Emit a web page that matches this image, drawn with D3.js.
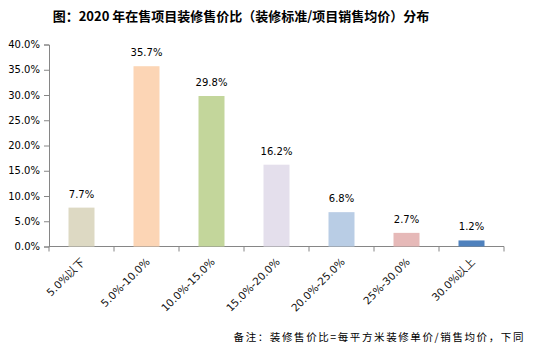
<!DOCTYPE html>
<html><head><meta charset="utf-8">
<script src="https://cdn.jsdelivr.net/npm/d3@7/dist/d3.min.js"></script>
<style>body{margin:0;background:#fff}svg{display:block}</style>
</head><body>
<script>
const categories = ["5.0%以下","5.0%-10.0%","10.0%-15.0%","15.0%-20.0%","20.0%-25.0%","25%-30.0%","30.0%以上"];
const values = [7.7, 35.7, 29.8, 16.2, 6.8, 2.7, 1.2];
const colors = ["#ddd9c3","#fcd5b5","#c3d69b","#e4dfec","#b9cde5","#e6b9b8","#4f81bd"];
const yTicks = [0,5,10,15,20,25,30,35,40];
const title = "图：2020 年在售项目装修售价比（装修标准/项目销售均价）分布";
const note = "备注：装修售价比=每平方米装修单价/销售均价，下同";

const W = 535, H = 356;
const svg = d3.select("body").append("svg").attr("width", W).attr("height", H);
const x = d3.scaleBand().domain(categories).range([49, 504]).paddingInner(0.6).paddingOuter(0.3);
const y = d3.scaleLinear().domain([0, 40]).range([246.5, 44.5]);

svg.append("text").attr("x", 241).attr("y", 21).attr("text-anchor", "middle")
  .attr("font-family", "Noto Sans CJK SC").attr("font-weight", "bold").attr("font-size", 13)
  .attr("fill", "#000").text(title);

// y axis
const ya = svg.append("g").attr("transform", "translate(49,0)")
  .call(d3.axisLeft(y).tickValues(yTicks).tickSize(5).tickPadding(4).tickFormat(d => d.toFixed(1) + "%"));
ya.selectAll("text").attr("font-family", "DejaVu Sans").attr("font-size", 10).attr("fill", "#000");
ya.selectAll("line,path").attr("stroke", "#868686");

// x axis
const xa = svg.append("g").attr("transform", "translate(0,246.5)");
xa.append("line").attr("x1", 49).attr("x2", 504).attr("stroke", "#868686");
const step = x.step();
const bounds = d3.range(categories.length + 1).map(i => 49 + i * step);
xa.selectAll(".tk").data(bounds).join("line").attr("x1", d => d).attr("x2", d => d)
  .attr("y1", 0).attr("y2", 5).attr("stroke", "#868686");
xa.selectAll(".lb").data(categories).join("text")
  .attr("transform", d => `translate(${x(d) + x.bandwidth()/2 + 4},${16}) rotate(-45)`)
  .attr("text-anchor", "end").attr("font-family", "DejaVu Sans").attr("font-size", 10.5)
  .attr("fill", "#111").text(d => d);

// bars
svg.selectAll(".bar").data(values).join("rect")
  .attr("x", (d, i) => x(categories[i])).attr("width", x.bandwidth())
  .attr("y", d => y(d)).attr("height", d => y(0) - y(d))
  .attr("fill", (d, i) => colors[i]);

svg.selectAll(".vl").data(values).join("text")
  .attr("x", (d, i) => x(categories[i]) + x.bandwidth()/2)
  .attr("y", d => y(d) - 10).attr("text-anchor", "middle")
  .attr("font-family", "DejaVu Sans").attr("font-size", 10).attr("fill", "#000")
  .text(d => d.toFixed(1) + "%");

svg.append("text").attr("x", 525).attr("y", 341).attr("text-anchor", "end")
  .attr("font-family", "Noto Sans CJK SC").attr("font-size", 10.5).attr("letter-spacing", 1.6)
  .attr("fill", "#000").text(note);
</script>
</body></html>
